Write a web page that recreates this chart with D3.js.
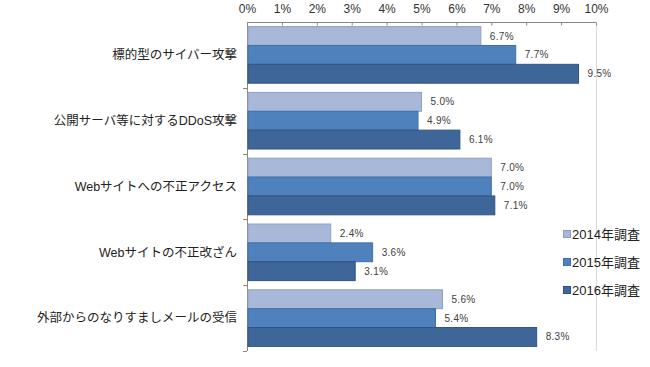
<!DOCTYPE html>
<html><head><meta charset="utf-8">
<script src="https://cdn.jsdelivr.net/npm/d3@7"></script>
<style>body{margin:0;background:#fff}svg{display:block}</style>
</head><body>
<svg id="c" width="650" height="367"></svg>
<script>
const categories = ["標的型のサイバー攻撃","公開サーバ等に対するDDoS攻撃","Webサイトへの不正アクセス","Webサイトの不正改ざん","外部からのなりすましメールの受信"];
const seriesNames = ["2014年調査","2015年調査","2016年調査"];
const values2014 = [6.7, 5.0, 7.0, 2.4, 5.6];
const values2015 = [7.7, 4.9, 7.0, 3.6, 5.4];
const values2016 = [9.5, 6.1, 7.1, 3.1, 8.3];
const tickValues = [0,1,2,3,4,5,6,7,8,9,10];
const fills = ["#a8b8d8","#4f81bd","#3e6698"];
const strokes = ["#8e9fc2","#3f6fa8","#2f5484"];

(function(){
const series = [values2014, values2015, values2016];
const svg = d3.select("#c");
const pL = 247, pR = 596, pT = 22, pB = 351;
const x = d3.scaleLinear().domain([0,10]).range([pL,pR]);
const y = d3.scaleBand().domain(categories).range([pT,pB]).paddingInner(0.14).paddingOuter(0.07);
const yi = d3.scaleBand().domain(seriesNames).range([0,y.bandwidth()]);

// right border
svg.append("line").attr("x1",pR+0.5).attr("x2",pR+0.5).attr("y1",pT).attr("y2",pB).attr("stroke","#d9d9d9");

// top axis
const ax = svg.append("g").attr("transform",`translate(0,${pT+0.5})`)
  .call(d3.axisTop(x).tickValues(tickValues).tickSize(-3).tickPadding(0).tickFormat(d=>d+"%"));
ax.select(".domain").attr("stroke","#888").attr("d",`M${pL},0H${pR}`);
ax.selectAll(".tick line").attr("stroke","#888");
ax.selectAll(".tick text").attr("y",-10).attr("font-family","Arial, 'Liberation Sans', sans-serif").attr("font-size","12px").attr("fill","#333").attr("dy","0");

// left axis
const bounds = categories.map(c=>y(c)-y.step()*y.paddingInner()/2).concat([pB]);
svg.append("line").attr("x1",pL+0.5).attr("x2",pL+0.5).attr("y1",pT).attr("y2",pB).attr("stroke","#888");
svg.selectAll(".ct").data(bounds.slice(1)).enter().append("line")
  .attr("x1",pL-4).attr("x2",pL).attr("y1",d=>Math.round(d)+0.5).attr("y2",d=>Math.round(d)+0.5).attr("stroke","#888");

// category labels
svg.selectAll(".cl").data(categories).enter().append("text")
  .attr("x",237).attr("y",d=>y(d)+y.bandwidth()/2).attr("dy","0.35em")
  .attr("text-anchor","end").attr("font-family","Arial, 'Liberation Sans', 'Noto Sans CJK JP', sans-serif").attr("font-size","12.5px").attr("fill","#222")
  .text(d=>d);

// bars
series.forEach((vals,si)=>{
  const g = svg.append("g");
  g.selectAll("rect").data(vals).enter().append("rect")
    .attr("x",pL+1).attr("y",(d,i)=>y(categories[i])+yi(seriesNames[si]))
    .attr("width",d=>x(d)-pL-1).attr("height",yi.bandwidth())
    .attr("fill",fills[si]).attr("stroke",strokes[si]).attr("stroke-width",1);
  g.selectAll("text").data(vals).enter().append("text")
    .attr("x",d=>x(d)+9).attr("y",(d,i)=>y(categories[i])+yi(seriesNames[si])+yi.bandwidth()/2).attr("dy","0.35em")
    .attr("font-family","Arial, 'Liberation Sans', sans-serif").attr("font-size","10px").attr("fill","#404040")
    .attr("letter-spacing","0.3px")
    .text(d=>d.toFixed(1)+"%");
});

// legend
const lg = svg.append("g");
seriesNames.forEach((n,i)=>{
  const cy = 234 + i*28;
  lg.append("rect").attr("x",563.5).attr("y",cy-3.5).attr("width",7).attr("height",7).attr("fill",fills[i]).attr("stroke",strokes[i]);
  lg.append("text").attr("x",572).attr("y",cy).attr("dy","0.35em")
    .attr("font-family","Arial, 'Liberation Sans', 'Noto Sans CJK JP', sans-serif").attr("font-size","13px").attr("fill","#222").text(n);
});
})();
</script>
</body></html>
